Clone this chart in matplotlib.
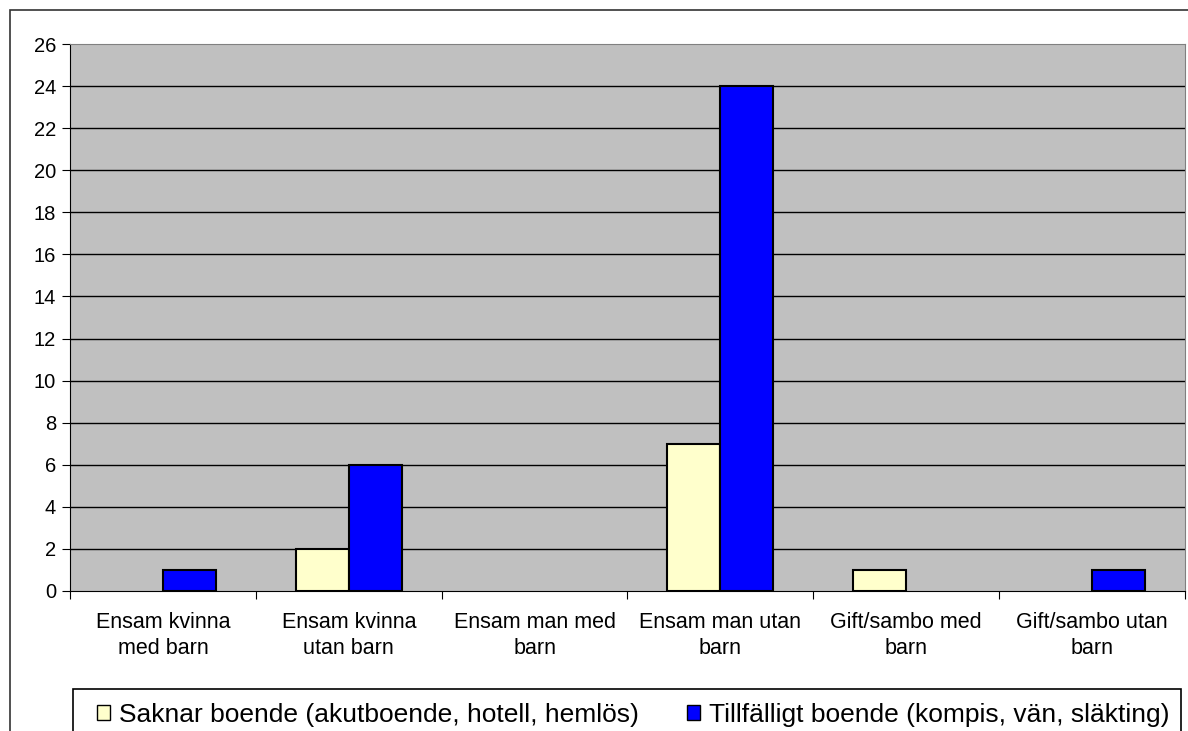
"""
Grouped bar chart, Excel style: boende per hushållstyp
"""

import matplotlib.pyplot as plt
import numpy as np
from matplotlib.patches import Rectangle

plt.rcParams['font.family'] = ['Liberation Sans', 'DejaVu Sans']

categories = ['Ensam kvinna\nmed barn', 'Ensam kvinna\nutan barn', 'Ensam man med\nbarn',
              'Ensam man utan\nbarn', 'Gift/sambo med\nbarn', 'Gift/sambo utan\nbarn']
saknar = [0, 2, 0, 7, 1, 0]
tillfalligt = [1, 6, 0, 24, 0, 1]
series_names = ['Saknar boende (akutboende, hotell, hemlös)',
                'Tillfälligt boende (kompis, vän, släkting)']
y_ticks = np.arange(0, 27, 2)

fig = plt.figure(figsize=(11.88, 7.31), dpi=100)
W, H = 1188, 731

# outer chart border (right/bottom run off the picture)
fig.patches.append(Rectangle((10 / W, -0.05), 1.1, 1 - 10 / H + 0.05,
                             transform=fig.transFigure, fill=False,
                             edgecolor='#333333', linewidth=1.2))
# legend box, also running off the bottom
fig.patches.append(Rectangle((73 / W, -0.05), (1181 - 73) / W, 1 - 689 / H + 0.05,
                             transform=fig.transFigure, fill=False,
                             edgecolor='black', linewidth=1.2))

ax = fig.add_axes([70 / W, (H - 591) / H, 1115 / W, 547 / H])
ax.set_facecolor('#C0C0C0')

x = np.arange(len(categories))
bw = 0.285


def draw_bars(offset, values, colour, label):
    # zero values are not drawn at all (Excel draws nothing there)
    values = np.asarray(values, dtype=float)
    heights = np.where(values > 0, values, np.nan)
    ax.bar(x + offset, heights, bw, color=colour, edgecolor='black', linewidth=1.5,
           label=label, zorder=3)


draw_bars(-bw / 2, saknar, '#FFFFCC', series_names[0])
draw_bars(bw / 2, tillfalligt, '#0000FF', series_names[1])

ax.set_xlim(-0.5, len(categories) - 0.5)
ax.set_ylim(0, 26)
ax.set_yticks(y_ticks)
ax.tick_params(axis='y', labelsize=14.5, length=6, direction='out', pad=4)
for yv in y_ticks[1:-1]:
    ax.axhline(yv, color='black', linewidth=1, zorder=1)

# category labels between tick marks at group boundaries
ax.set_xticks(np.arange(len(categories) + 1) - 0.5)
ax.set_xticklabels([])
ax.set_xticks(x, minor=True)
ax.set_xticklabels(categories, minor=True, fontsize=15.5, linespacing=1.3)
ax.tick_params(axis='x', which='major', length=6, direction='out')
ax.tick_params(axis='x', which='minor', length=0, pad=15)

for side in ['top', 'right']:
    ax.spines[side].set_color('#808080')
ax.spines['left'].set_color('black')
ax.spines['bottom'].set_color('black')

leg = fig.legend(loc='center left', bbox_to_anchor=(97 / W, 1 - 715 / H),
                 ncol=2, fontsize=19, frameon=False,
                 handlelength=0.5, handleheight=0.5, handletextpad=0.35,
                 borderaxespad=0, columnspacing=1.8, borderpad=0)
for h in leg.legend_handles:
    h.set_linewidth(1)

fig.savefig('out.png', dpi=100)
